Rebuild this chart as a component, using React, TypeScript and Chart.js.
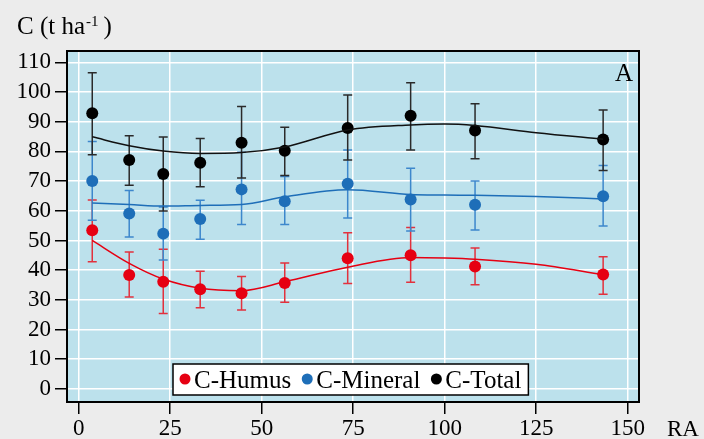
import { useEffect, useRef } from 'react';
import { Chart, registerables } from 'chart.js';
Chart.register(...registerables);

// ---- data ----
const raValues = [3.7, 13.8, 23.1, 33.2, 44.5, 56.3, 73.5, 90.7, 108.3, 143.3];

const humus = [53.4, 38.4, 36.1, 33.6, 32.2, 35.7, 44.0, 45.0, 41.2, 38.5];
const humusLow = [42.8, 31.0, 25.4, 27.3, 26.6, 29.2, 35.5, 35.9, 35.1, 31.9];
const humusHigh = [63.6, 46.1, 47.0, 39.6, 37.9, 42.4, 52.6, 54.4, 47.5, 44.5];

const mineral = [70.0, 59.1, 52.3, 57.2, 67.2, 63.2, 69.1, 63.8, 62.0, 64.9];
const mineralLow = [56.8, 51.2, 43.4, 50.4, 55.4, 55.4, 57.6, 53.2, 53.5, 54.9];
const mineralHigh = [83.3, 66.8, 61.3, 63.5, 79.7, 71.5, 80.5, 74.3, 70.0, 75.2];

const total = [92.8, 77.1, 72.4, 76.2, 82.9, 80.2, 87.9, 92.0, 87.0, 84.0];
const totalLow = [78.9, 68.6, 59.9, 68.1, 71.0, 71.9, 77.1, 80.5, 77.5, 73.6];
const totalHigh = [106.5, 85.3, 84.8, 84.3, 95.1, 88.1, 99.0, 103.1, 96.0, 93.9];

// fitted (smoothed) curves
const fitRA = [3.7, 13.8, 23.1, 33.2, 44.5, 56.3, 73.5, 90.7, 100, 108.3, 125, 143.3];
const humusFit = [50.0, 42.3, 37.0, 33.9, 33.1, 36.1, 41.0, 44.3, 44.1, 43.7, 42.0, 38.5];
const mineralFit = [62.6, 62.1, 61.6, 61.8, 62.1, 64.7, 67.1, 65.5, 65.3, 65.2, 64.8, 64.0];
const totalFit = [84.9, 81.9, 80.1, 79.3, 79.6, 81.5, 87.2, 88.9, 89.2, 88.7, 86.3, 84.1];

const xTicks = [0, 25, 50, 75, 100, 125, 150];
const yTicks = [0, 10, 20, 30, 40, 50, 60, 70, 80, 90, 100, 110];

const seriesLabels = ['C-Humus', 'C-Mineral', 'C-Total'];
const pointColors = ['#e60012', '#1e6eb8', '#000000'];
const barColors = ['#e2313d', '#3d87cc', '#2a2a2a'];

const SERIF = '"Liberation Serif", "DejaVu Serif", serif';

const errorSets = [
  { low: humusLow, high: humusHigh, color: barColors[0] },
  { low: mineralLow, high: mineralHigh, color: barColors[1] },
  { low: totalLow, high: totalHigh, color: barColors[2] },
];

const pts = (ys: number[]) => raValues.map((x, i) => ({ x, y: ys[i] }));
const fitPts = (ys: number[]) => fitRA.map((x, i) => ({ x, y: ys[i] }));

const bgPlugin = {
  id: 'bgPlugin',
  beforeDraw(chart: any) {
    const { ctx, chartArea: a, width, height } = chart;
    ctx.save();
    ctx.fillStyle = '#ececec';
    ctx.fillRect(0, 0, width, height);
    ctx.fillStyle = '#bce1ec';
    ctx.fillRect(a.left, a.top, a.right - a.left, a.bottom - a.top);
    ctx.restore();
  },
};

const errorPlugin = {
  id: 'errorPlugin',
  beforeDatasetsDraw(chart: any) {
    const { ctx, scales } = chart;
    const xs = scales.x, ys = scales.y;
    ctx.save();
    ctx.lineWidth = 1.5;
    errorSets.forEach((s) => {
      ctx.strokeStyle = s.color;
      raValues.forEach((ra, i) => {
        const px = xs.getPixelForValue(ra);
        const lo = ys.getPixelForValue(s.low[i]);
        const hi = ys.getPixelForValue(s.high[i]);
        ctx.beginPath();
        ctx.moveTo(px, lo);
        ctx.lineTo(px, hi);
        ctx.moveTo(px - 4.5, lo);
        ctx.lineTo(px + 4.5, lo);
        ctx.moveTo(px - 4.5, hi);
        ctx.lineTo(px + 4.5, hi);
        ctx.stroke();
      });
    });
    ctx.restore();
  },
};

const decoPlugin = {
  id: 'decoPlugin',
  afterDraw(chart: any) {
    const { ctx, chartArea: a } = chart;
    ctx.save();
    // frame
    ctx.strokeStyle = '#000';
    ctx.lineWidth = 2;
    ctx.strokeRect(a.left, a.top, a.right - a.left, a.bottom - a.top);

    ctx.fillStyle = '#000';
    ctx.textBaseline = 'alphabetic';
    ctx.textAlign = 'left';
    // y axis title
    ctx.font = `25px ${SERIF}`;
    const t1 = 'C (t ha';
    ctx.fillText(t1, 17, 34);
    const w1 = ctx.measureText(t1).width;
    ctx.font = `15px ${SERIF}`;
    ctx.fillText('-1', 17 + w1 + 1, 26);
    const w2 = ctx.measureText('-1').width;
    ctx.font = `25px ${SERIF}`;
    ctx.fillText(')', 17 + w1 + 1 + w2 + 5, 34);

    // x axis title
    ctx.font = `23px ${SERIF}`;
    ctx.fillText('RA', 667, 436);

    // panel letter
    ctx.font = `25px ${SERIF}`;
    ctx.fillText('A', 615, 81);

    // legend
    const bx = a.left + 106, by = 364, bh = 31;
    ctx.font = `25px ${SERIF}`;
    let x = bx + 12;
    const items: { cx: number; tx: number; label: string; color: string }[] = [];
    let lastEnd = x;
    chart.data.datasets
      .filter((d: any) => d.isPointSet)
      .forEach((d: any) => {
        const tw = ctx.measureText(d.label).width;
        items.push({ cx: x, tx: x + 9, label: d.label, color: d.backgroundColor });
        lastEnd = x + 9 + tw;
        x = lastEnd + 16;
      });
    const bw = lastEnd + 7 - bx;
    ctx.fillStyle = '#fff';
    ctx.fillRect(bx, by, bw, bh);
    ctx.strokeStyle = '#000';
    ctx.lineWidth = 1.5;
    ctx.strokeRect(bx, by, bw, bh);
    items.forEach((it) => {
      ctx.fillStyle = it.color;
      ctx.beginPath();
      ctx.arc(it.cx, by + 15, 5.5, 0, Math.PI * 2);
      ctx.fill();
      ctx.fillStyle = '#000';
      ctx.fillText(it.label, it.tx, by + 23.5);
    });
    ctx.restore();
  },
};

export default function App() {
  const ref = useRef<HTMLCanvasElement>(null);
  useEffect(() => {
    document.body.style.margin = '0';
    const fitDs = (ys: number[], color: string) => ({
      type: 'line' as const,
      data: fitPts(ys),
      borderColor: color,
      borderWidth: 1.5,
      pointRadius: 0,
      fill: false,
      cubicInterpolationMode: 'monotone' as const,
      showLine: true,
    });
    const ptDs = (ys: number[], idx: number) => ({
      type: 'scatter' as const,
      label: seriesLabels[idx],
      isPointSet: true,
      data: pts(ys),
      backgroundColor: pointColors[idx],
      borderColor: pointColors[idx],
      pointRadius: 6,
      pointBorderWidth: 0,
      showLine: false,
    });
    const chart = new Chart(ref.current!, {
      type: 'scatter',
      data: {
        datasets: [
          fitDs(humusFit, '#e60012'),
          fitDs(mineralFit, '#1e6eb8'),
          fitDs(totalFit, '#111111'),
          ptDs(humus, 0),
          ptDs(mineral, 1),
          ptDs(total, 2),
        ] as any,
      },
      options: {
        responsive: false,
        animation: false,
        devicePixelRatio: 1,
        layout: { padding: { top: 51, right: 65, left: 0, bottom: 0 } },
        plugins: { legend: { display: false }, tooltip: { enabled: false }, title: { display: false } },
        scales: {
          x: {
            type: 'linear',
            min: -3.2,
            max: 153.1,
            afterBuildTicks: (s: any) => {
              s.ticks = xTicks.map((v) => ({ value: v }));
            },
            afterFit: (s: any) => {
              s.height = 37;
            },
            grid: { color: '#ffffff', lineWidth: 1.5, tickColor: '#000', tickLength: 12, tickWidth: 1.5 } as any,
            border: { display: false },
            ticks: {
              color: '#000',
              font: { family: SERIF, size: 23 },
              padding: 1,
              maxRotation: 0,
              autoSkip: false,
              callback: (v: any) => String(v),
            },
          },
          y: {
            type: 'linear',
            min: -4.4,
            max: 113.8,
            afterBuildTicks: (s: any) => {
              s.ticks = yTicks.map((v) => ({ value: v }));
            },
            afterFit: (s: any) => {
              s.width = 67;
            },
            grid: { color: '#ffffff', lineWidth: 1.5, tickColor: '#000', tickLength: 12, tickWidth: 1.5 } as any,
            border: { display: false },
            ticks: {
              color: '#000',
              font: { family: SERIF, size: 23 },
              padding: 4,
              autoSkip: false,
              callback: (v: any) => String(v),
            },
          },
        },
      },
      plugins: [bgPlugin, errorPlugin, decoPlugin],
    });
    return () => chart.destroy();
  }, []);
  return (
    <div style={{ width: 704, height: 439, background: '#ececec' }}>
      <canvas ref={ref} width={704} height={439} style={{ display: 'block', width: 704, height: 439 }} />
    </div>
  );
}
